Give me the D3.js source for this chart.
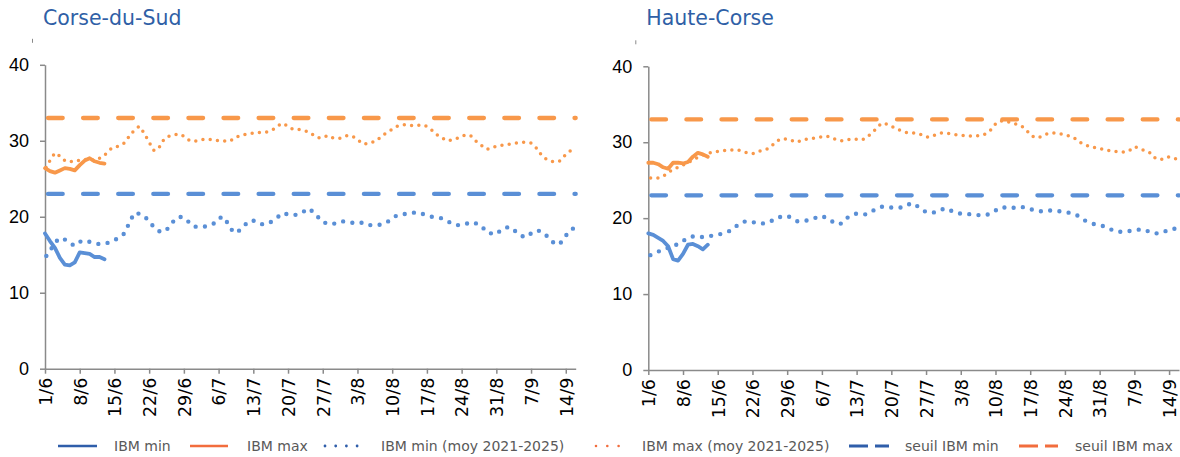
<!DOCTYPE html>
<html>
<head>
<meta charset="utf-8">
<script src="https://cdn.jsdelivr.net/npm/d3@7"></script>
<style>
  body { margin: 0; background: #fff; }
  svg { display: block; font-family: 'DejaVu Sans', sans-serif; }
  .axis path, .axis line { stroke: #8a8a8a; stroke-width: 1.5; }
  .ylab text { font-family: 'Liberation Sans', Arial, sans-serif; font-size: 18px; fill: #000; }
  .xlab text { font-family: 'DejaVu Sans', sans-serif; font-size: 17.5px; fill: #000; }
</style>
</head>
<body>
<div id="chart"></div>
<script>
// days from 1/6 to 16/9
var categories = d3.timeDay.range(new Date(2025, 5, 1), new Date(2025, 8, 17))
  .map(d3.timeFormat('%-d/%-m'));

var xTickLabels = ['1/6', '8/6', '15/6', '22/6', '29/6', '6/7', '13/7', '20/7', '27/7',
  '3/8', '10/8', '17/8', '24/8', '31/8', '7/9', '14/9'];
var yTicks = [0, 10, 20, 30, 40];

// Corse-du-Sud
var sudMin = [17.8, 16.8, 15.9, 14.6, 13.7, 13.6, 14.0, 15.3, 15.2, 15.1, 14.7, 14.7, 14.4];
var sudMax = [26.4, 26.0, 25.8, 26.1, 26.4, 26.3, 26.1, 26.8, 27.4, 27.7, 27.3, 27.1, 27.0];
var sudMinMoy = [
  14.6, 15.5, 16.6, 17.2, 17.0, 16.5, 16.2, 16.7, 16.9, 16.7,
  16.5, 16.4, 16.5, 16.6, 16.9, 17.3, 17.8, 19.2, 20.5, 20.4,
  20.1, 19.4, 18.6, 18.1, 18.0, 18.6, 19.5, 20.0, 19.9, 19.3,
  18.7, 18.7, 18.7, 18.8, 19.1, 19.8, 20.0, 19.0, 17.9, 18.1,
  18.7, 19.4, 19.5, 19.1, 19.0, 19.1, 19.5, 20.0, 20.5, 20.3,
  20.2, 20.3, 20.6, 21.1, 20.7, 20.0, 19.3, 19.1, 19.0, 19.3,
  19.4, 19.3, 19.2, 19.3, 19.2, 18.9, 18.9, 18.9, 19.0, 19.3,
  19.8, 20.2, 20.3, 20.4, 20.5, 20.6, 20.4, 20.2, 20.0, 19.9,
  19.8, 19.5, 19.1, 18.9, 18.9, 19.1, 19.3, 19.1, 18.8, 18.0,
  17.8, 17.7, 18.3, 18.6, 18.6, 18.0, 17.5, 17.3, 17.8, 18.2,
  18.1, 17.6, 16.9, 16.3, 16.6, 17.5, 18.3, 18.6];
var sudMaxMoy = [
  26.2, 27.4, 28.4, 28.0, 27.4, 27.2, 27.4, 27.4, 27.5, 27.6,
  27.4, 27.7, 28.1, 28.8, 29.2, 29.3, 29.7, 30.6, 31.4, 31.9,
  31.0, 29.8, 28.7, 29.1, 30.2, 30.6, 30.8, 30.9, 30.6, 30.1,
  29.9, 30.1, 30.2, 30.2, 30.1, 30.0, 30.0, 29.9, 30.2, 30.6,
  30.8, 30.9, 31.0, 31.1, 31.1, 31.2, 31.5, 32.0, 32.3, 31.9,
  31.5, 31.5, 31.4, 31.2, 30.8, 30.4, 30.4, 30.7, 30.4, 30.3,
  30.4, 30.7, 30.6, 30.2, 29.6, 29.6, 29.8, 30.1, 30.7, 31.1,
  31.5, 31.9, 32.1, 32.1, 32.0, 32.0, 32.1, 31.9, 31.4, 30.8,
  30.4, 30.0, 30.1, 30.3, 30.6, 30.8, 30.6, 29.9, 29.4, 28.9,
  29.0, 29.3, 29.4, 29.5, 29.6, 29.7, 29.8, 29.8, 29.7, 29.1,
  28.2, 27.6, 27.3, 27.2, 27.4, 28.2, 28.7, 29.0];
var sudSeuils = [23, 33];

// Haute-Corse
var hcMin = [18.0, 17.8, 17.4, 17.0, 16.3, 14.6, 14.4, 15.3, 16.5, 16.6, 16.3, 15.9, 16.5];
var hcMax = [27.3, 27.3, 27.1, 26.7, 26.5, 27.3, 27.3, 27.2, 27.4, 28.1, 28.6, 28.4, 28.1];
var hcMinMoy = [
  15.0, 15.3, 15.6, 15.8, 16.1, 16.3, 16.6, 17.0, 17.4, 17.6,
  17.6, 17.5, 17.6, 17.7, 17.8, 18.0, 18.2, 18.5, 19.1, 19.5,
  19.6, 19.5, 19.3, 19.3, 19.4, 19.7, 20.1, 20.2, 20.3, 20.0,
  19.6, 19.6, 19.7, 19.9, 20.1, 20.3, 20.0, 19.6, 19.2, 19.3,
  20.0, 20.4, 20.6, 20.5, 20.5, 20.9, 21.2, 21.5, 21.5, 21.4,
  21.4, 21.4, 21.6, 22.0, 21.7, 21.2, 20.8, 20.7, 20.8, 21.1,
  21.3, 21.0, 20.7, 20.6, 20.6, 20.5, 20.4, 20.4, 20.4, 20.6,
  21.0, 21.4, 21.4, 21.3, 21.4, 21.5, 21.4, 21.2, 21.0, 20.9,
  20.9, 21.0, 21.0, 20.9, 20.8, 20.7, 20.5, 20.2, 19.7, 19.4,
  19.2, 19.1, 18.9, 18.6, 18.3, 18.2, 18.2, 18.3, 18.4, 18.5,
  18.5, 18.2, 18.0, 18.0, 18.2, 18.5, 18.6, 18.7];
var hcMaxMoy = [
  25.3, 25.3, 25.3, 25.5, 26.0, 26.4, 26.7, 27.0, 27.3, 27.7,
  28.0, 28.3, 28.5, 28.7, 28.8, 28.9, 28.9, 29.0, 29.0, 28.8,
  28.6, 28.5, 28.7, 29.0, 29.1, 29.6, 30.2, 30.5, 30.4, 30.2,
  30.0, 30.3, 30.4, 30.5, 30.6, 30.7, 30.8, 30.6, 30.3, 30.2,
  30.3, 30.4, 30.4, 30.3, 30.6, 31.2, 31.8, 32.5, 32.4, 32.1,
  31.8, 31.5, 31.3, 31.2, 31.2, 31.0, 30.7, 30.7, 31.0, 31.2,
  31.2, 31.1, 31.0, 30.9, 30.9, 30.8, 30.8, 30.9, 31.1, 31.6,
  32.4, 32.8, 32.8, 32.6, 32.4, 32.2, 31.8, 31.0, 30.6, 30.7,
  31.0, 31.2, 31.2, 31.1, 31.0, 30.8, 30.5, 30.0, 29.7, 29.4,
  29.3, 29.2, 29.0, 28.9, 28.8, 28.7, 28.7, 28.9, 29.4, 29.2,
  28.9, 28.7, 28.0, 27.7, 27.8, 28.1, 27.9, 27.7];
var hcSeuils = [23, 33];

(function() {
  'use strict';

  var svgWidth = 1180,
    svgHeight = 457;

  var BLUE = '#5a8fd6',
    ORANGE = '#f8984a',
    LEG_BLUE = '#2f5eaa',
    LEG_ORANGE = '#f26d3d';

  var svg = d3.select('#chart').append('svg')
    .attr('width', svgWidth)
    .attr('height', svgHeight);

  var panels = [
    { title: 'Corse-du-Sud', left: 45, right: 575.7, bottom: 368.7, top: 64.8,
      min: sudMin, max: sudMax, minMoy: sudMinMoy, maxMoy: sudMaxMoy, seuils: sudSeuils },
    { title: 'Haute-Corse', left: 648.3, right: 1179, bottom: 370, top: 66.3,
      min: hcMin, max: hcMax, minMoy: hcMinMoy, maxMoy: hcMaxMoy, seuils: hcSeuils }
  ];

  panels.forEach(function(p) {
    var x = d3.scalePoint().domain(categories).range([p.left, p.right]);
    var y = d3.scaleLinear().domain([0, 40]).range([p.bottom, p.top]);

    var g = svg.append('g');

    g.append('text')
      .attr('x', p.left - 2)
      .attr('y', 25)
      .attr('fill', '#2f5fa6')
      .style('font-size', '20.5px')
      .text(p.title);

    // little stub above the value axis
    g.append('line')
      .attr('x1', p.left - 12.5).attr('x2', p.left - 12.5)
      .attr('y1', p.top - 26).attr('y2', p.top - 22)
      .attr('stroke', '#8a8a8a').attr('stroke-width', 1);

    g.append('g')
      .attr('class', 'axis ylab')
      .attr('transform', 'translate(' + p.left + ',0)')
      .call(d3.axisLeft(y).tickValues(yTicks).tickSize(5).tickSizeOuter(0).tickPadding(11));

    var xa = g.append('g')
      .attr('class', 'axis xlab')
      .attr('transform', 'translate(0,' + p.bottom + ')')
      .call(d3.axisBottom(x).tickValues(xTickLabels).tickSize(5).tickSizeOuter(0));
    xa.selectAll('text')
      .attr('transform', 'rotate(-90)')
      .attr('x', -9)
      .attr('y', 0)
      .attr('dy', '0.36em')
      .style('text-anchor', 'end');

    var line = d3.line()
      .x(function(d, i) { return x(categories[i]); })
      .y(function(d) { return y(d); });

    var seuilLine = d3.line()
      .x(function(d) { return x(d.c); })
      .y(function(d) { return y(d.v); });

    var ends = [categories[0], categories[categories.length - 1]];

    // IBM min / max
    g.append('path').datum(p.min)
      .attr('d', line).attr('fill', 'none')
      .attr('stroke', BLUE).attr('stroke-width', 3.8)
      .attr('stroke-linejoin', 'round').attr('stroke-linecap', 'round');
    g.append('path').datum(p.max)
      .attr('d', line).attr('fill', 'none')
      .attr('stroke', ORANGE).attr('stroke-width', 3.8)
      .attr('stroke-linejoin', 'round').attr('stroke-linecap', 'round');

    // averages 2021-2025
    g.append('path').datum(p.minMoy)
      .attr('d', line).attr('fill', 'none')
      .attr('stroke', BLUE).attr('stroke-width', 4.4)
      .attr('stroke-linecap', 'round')
      .attr('stroke-dasharray', '0 9.3')
      .attr('stroke-dashoffset', -2.3);
    g.append('path').datum(p.maxMoy)
      .attr('d', line).attr('fill', 'none')
      .attr('stroke', ORANGE).attr('stroke-width', 3.5)
      .attr('stroke-linecap', 'round')
      .attr('stroke-dasharray', '0 7.3')
      .attr('stroke-dashoffset', -2.3);

    // thresholds
    [{ v: p.seuils[0], c: BLUE }, { v: p.seuils[1], c: ORANGE }].forEach(function(s) {
      g.append('path')
        .datum(ends.map(function(c) { return { c: c, v: s.v }; }))
        .attr('d', seuilLine).attr('fill', 'none')
        .attr('stroke', s.c).attr('stroke-width', 4.3)
        .attr('stroke-linecap', 'round')
        .attr('stroke-dasharray', '14.7 20.4')
        .attr('stroke-dashoffset', -3);
    });
  });

  // legend
  var legendItems = [
    { label: 'IBM min', x1: 58, x2: 97, tx: 114, color: LEG_BLUE, dash: null, w: 2.6 },
    { label: 'IBM max', x1: 190, x2: 228, tx: 247, color: LEG_ORANGE, dash: null, w: 2.6 },
    { label: 'IBM min (moy 2021-2025)', x1: 325, x2: 358, tx: 381, color: LEG_BLUE, dash: '0 10.7', w: 2.8 },
    { label: 'IBM max (moy 2021-2025)', x1: 596, x2: 619, tx: 642, color: LEG_ORANGE, dash: '0 11.3', w: 2.6 },
    { label: 'seuil IBM min', x1: 849, x2: 889, tx: 905, color: LEG_BLUE, dash: '19 7', w: 3 },
    { label: 'seuil IBM max', x1: 1019, x2: 1058, tx: 1075, color: LEG_ORANGE, dash: '19 7', w: 3 }
  ];
  var legendY = 446;

  var leg = svg.append('g').selectAll('g')
    .data(legendItems)
    .enter().append('g');

  leg.append('line')
    .attr('x1', function(d) { return d.x1; })
    .attr('x2', function(d) { return d.x2; })
    .attr('y1', legendY).attr('y2', legendY)
    .attr('stroke', function(d) { return d.color; })
    .attr('stroke-width', function(d) { return d.w; })
    .attr('stroke-linecap', function(d) { return d.dash && d.dash.charAt(0) === '0' ? 'round' : 'butt'; })
    .attr('stroke-dasharray', function(d) { return d.dash; });

  leg.append('text')
    .attr('x', function(d) { return d.tx; })
    .attr('y', legendY)
    .attr('dy', '0.36em')
    .attr('fill', '#595959')
    .style('font-size', '14px')
    .text(function(d) { return d.label; });
})();
</script>
</body>
</html>
